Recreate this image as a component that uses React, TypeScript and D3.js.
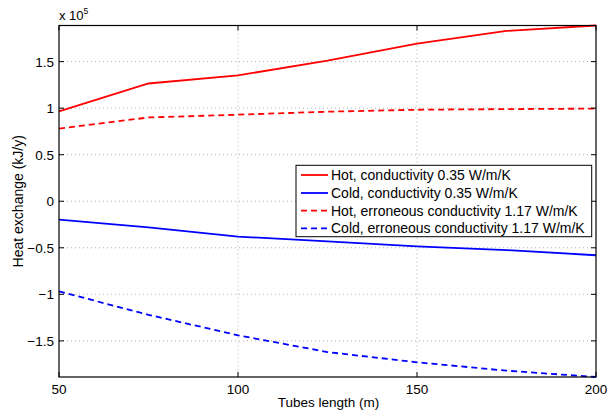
import React from "react";
import * as d3 from "d3";

const tubeLengths = [50, 75, 100, 125, 150, 175, 200];
const hotSolid = [0.965, 1.265, 1.352, 1.51, 1.694, 1.83, 1.888];
const coldSolid = [-0.197, -0.28, -0.38, -0.43, -0.484, -0.525, -0.58];
const hotDashed = [0.78, 0.9, 0.93, 0.962, 0.983, 0.99, 0.995];
const coldDashed = [-0.968, -1.22, -1.44, -1.62, -1.73, -1.82, -1.888];

const xTicks = [50, 100, 150, 200];
const yTicks = [-1.5, -1, -0.5, 0, 0.5, 1, 1.5];
const yTickLabels = ["\u22121.5", "\u22121", "\u22120.5", "0", "0.5", "1", "1.5"];

const seriesNames = [
  "Hot, conductivity 0.35 W/m/K",
  "Cold, conductivity 0.35 W/m/K",
  "Hot, erroneous conductivity 1.17 W/m/K",
  "Cold, erroneous conductivity 1.17 W/m/K",
];
const seriesColors = ["#ff0000", "#0000ff", "#ff0000", "#0000ff"];
const seriesDashed = [false, false, true, true];
const seriesValues = [hotSolid, coldSolid, hotDashed, coldDashed];

const W = 607;
const H = 412;
const M = { left: 59, right: 11, top: 25.5, bottom: 35 };

export default function App() {
  const x = d3.scaleLinear().domain([50, 200]).range([M.left, W - M.right]);
  const y = d3.scaleLinear().domain([-1.888, 1.888]).range([H - M.bottom, M.top]);
  const line = d3
    .line<number>()
    .x((_, i) => x(tubeLengths[i]))
    .y((d) => y(d));
  const x0 = M.left,
    x1 = W - M.right,
    y0 = M.top,
    y1 = H - M.bottom;
  const font = "'Liberation Sans', Arial, Helvetica, sans-serif";
  const tick = 5;

  const lx = 296,
    ly = 165.3,
    lw = 295.7,
    lh = 71.4;
  const rowY = [175, 193, 210.7, 228.3];

  return (
    <svg
      width={W}
      height={H}
      style={{ position: "absolute", left: 0, top: 0, background: "#fff" }}
      fontFamily={font}
    >
      <rect x={0} y={0} width={W} height={H} fill="#fff" />
      {/* grid */}
      <g stroke="#9a9a9a" strokeWidth={0.8} strokeDasharray="1,3">
        {xTicks.slice(1, -1).map((t) => (
          <line key={"gx" + t} x1={x(t)} x2={x(t)} y1={y0} y2={y1} />
        ))}
        {yTicks.map((t) => (
          <line key={"gy" + t} x1={x0} x2={x1} y1={y(t)} y2={y(t)} />
        ))}
      </g>
      {/* series */}
      {seriesValues.map((vals, i) => (
        <path
          key={"s" + i}
          d={line(vals) || ""}
          fill="none"
          stroke={seriesColors[i]}
          strokeWidth={1.8}
          strokeDasharray={seriesDashed[i] ? "6,4" : undefined}
        />
      ))}
      {/* ticks */}
      <g stroke="#000" strokeWidth={1}>
        {xTicks.map((t) => (
          <g key={"tx" + t}>
            <line x1={x(t)} x2={x(t)} y1={y1} y2={y1 - tick} />
            <line x1={x(t)} x2={x(t)} y1={y0} y2={y0 + tick} />
          </g>
        ))}
        {yTicks.map((t) => (
          <g key={"ty" + t}>
            <line x1={x0} x2={x0 + tick} y1={y(t)} y2={y(t)} />
            <line x1={x1} x2={x1 - tick} y1={y(t)} y2={y(t)} />
          </g>
        ))}
      </g>
      {/* box */}
      <rect x={x0} y={y0} width={x1 - x0} height={y1 - y0} fill="none" stroke="#000" strokeWidth={1.2} />
      {/* tick labels */}
      <g fontSize={13.5} fill="#000">
        {xTicks.map((t) => (
          <text key={"lx" + t} x={x(t)} y={y1 + 16.5} textAnchor="middle">
            {t}
          </text>
        ))}
        {yTicks.map((t, i) => (
          <text key={"ly" + t} x={x0 - 5} y={y(t) + 5} textAnchor="end">
            {yTickLabels[i]}
          </text>
        ))}
      </g>
      {/* exponent */}
      <text x={x0} y={y0 - 6} fontSize={13} fill="#000">
        x 10
        <tspan fontSize={8.5} dy={-5.5}>
          5
        </tspan>
      </text>
      {/* axis labels */}
      <text x={(x0 + x1) / 2 + 1} y={H - 5} fontSize={13.5} textAnchor="middle" fill="#000">
        Tubes length (m)
      </text>
      <text
        transform={`translate(23, ${(y0 + y1) / 2}) rotate(-90)`}
        fontSize={14}
        textAnchor="middle"
        fill="#000"
      >
        Heat exchange (kJ/y)
      </text>
      {/* legend */}
      <rect x={lx} y={ly} width={lw} height={lh} fill="#fff" stroke="#000" strokeWidth={1} />
      {seriesNames.map((n, i) => (
        <g key={"lg" + i}>
          <line
            x1={301}
            x2={328}
            y1={rowY[i]}
            y2={rowY[i]}
            stroke={seriesColors[i]}
            strokeWidth={1.8}
            strokeDasharray={seriesDashed[i] ? "6,4" : undefined}
          />
          <text x={331} y={rowY[i] + 5} fontSize={14} fill="#000">
            {n}
          </text>
        </g>
      ))}
    </svg>
  );
}
